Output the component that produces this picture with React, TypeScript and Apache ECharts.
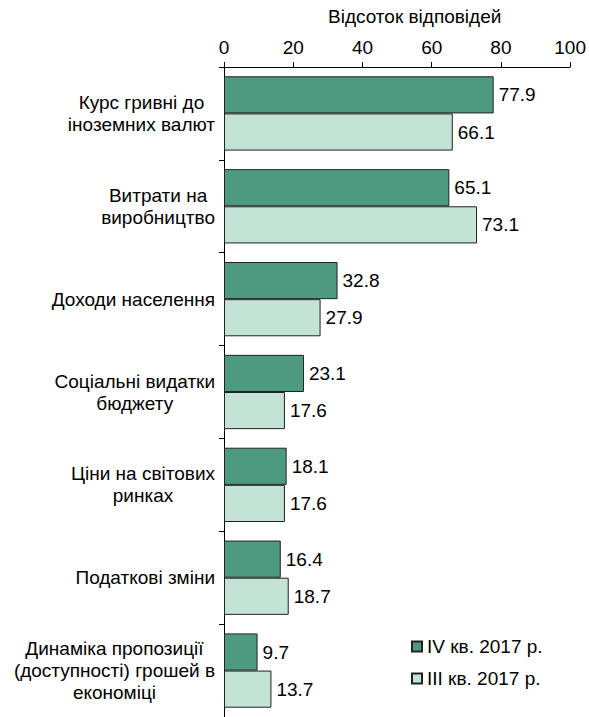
import React, { useEffect, useRef } from "react";
import * as echarts from "echarts";

const categories = [
  "Курс гривні до\nіноземних валют",
  "Витрати на\nвиробництво",
  "Доходи населення",
  "Соціальні видатки\nбюджету",
  "Ціни на світових\nринках",
  "Податкові зміни",
  "Динаміка пропозиції\n(доступності) грошей в\nекономіці",
];
const seriesNames = ["IV кв. 2017 р.", "III кв. 2017 р."];
const q4Values = [77.9, 65.1, 32.8, 23.1, 18.1, 16.4, 9.7];
const q3Values = [66.1, 73.1, 27.9, 17.6, 17.6, 18.7, 13.7];
const axisTitle = "Відсоток відповідей";

const FONT = "'Liberation Sans', Arial, sans-serif";
const FS = 19;
const DARK = "#4E9A80";
const LIGHT = "#C2E3D5";

export default function App() {
  const ref = useRef<HTMLDivElement>(null);
  useEffect(() => {
    document.body.style.margin = "0";
    const chart = echarts.init(ref.current!, null, { renderer: "svg" });
    const labelStyle = {
      show: true,
      position: "right" as const,
      distance: 5,
      color: "#000",
      fontSize: FS,
      fontFamily: FONT,
      formatter: (p: any) => Number(p.value).toFixed(1),
    };
    chart.setOption({
      animation: false,
      textStyle: { fontFamily: FONT },
      grid: { left: 224, right: 17, top: 67, bottom: -1, containLabel: false },
      graphic: [
        {
          type: "text",
          left: 328,
          top: 7,
          style: { text: axisTitle, fontSize: FS, fontFamily: FONT, fill: "#000" },
        },
      ],
      legend: {
        orient: "vertical",
        left: 406,
        top: 632,
        icon: "rect",
        itemWidth: 10,
        itemHeight: 10,
        itemGap: 13,
        textStyle: { fontSize: FS, fontFamily: FONT, color: "#000" },
        data: seriesNames,
      },
      xAxis: {
        type: "value",
        position: "top",
        min: 0,
        max: 100,
        interval: 20,
        splitLine: { show: false },
        axisLine: { show: true, lineStyle: { color: "#000", width: 1 } },
        axisTick: { show: true, length: 5, lineStyle: { color: "#000" } },
        axisLabel: { fontSize: FS, color: "#000", fontFamily: FONT, margin: 10 },
      },
      yAxis: {
        type: "category",
        inverse: true,
        data: categories,
        axisLine: { show: true, lineStyle: { color: "#000", width: 1 } },
        axisTick: { show: true, length: 5, lineStyle: { color: "#000" } },
        axisLabel: {
          fontSize: FS,
          color: "#000",
          fontFamily: FONT,
          margin: 9,
          align: "right",
          lineHeight: 22,
          formatter: (v: string) =>
            v
              .split("\n")
              .map((l) => `{c|${l}}`)
              .join("\n"),
          rich: {
            c: { align: "center", fontSize: FS, fontFamily: FONT, color: "#000", lineHeight: 22 },
          },
        },
      },
      series: [
        {
          name: seriesNames[0],
          type: "bar",
          data: q4Values,
          barGap: "0%",
          barCategoryGap: "20%",
          itemStyle: { color: DARK, borderColor: "#222", borderWidth: 1 },
          label: labelStyle,
        },
        {
          name: seriesNames[1],
          type: "bar",
          data: q3Values,
          barGap: "0%",
          barCategoryGap: "20%",
          itemStyle: { color: LIGHT, borderColor: "#222", borderWidth: 1 },
          label: labelStyle,
        },
      ],
    });
    return () => chart.dispose();
  }, []);
  return <div ref={ref} style={{ width: 589, height: 717 }} />;
}
